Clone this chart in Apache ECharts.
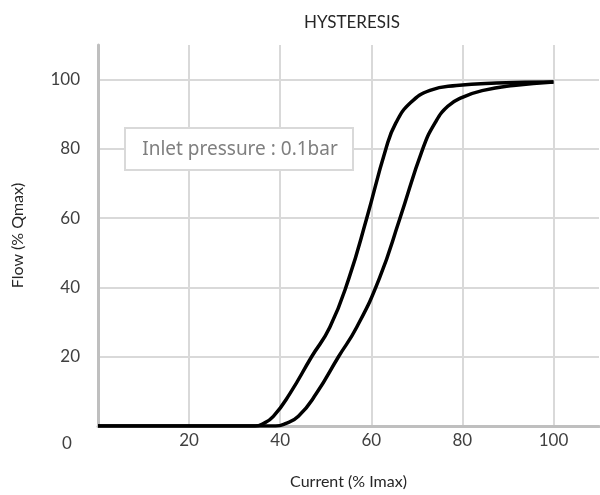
<!DOCTYPE html>
<html>
<head>
<meta charset="utf-8">
<script src="https://cdn.jsdelivr.net/npm/echarts@6/dist/echarts.min.js"></script>
<style>
html,body{margin:0;padding:0;background:#fff;}
#chart{width:600px;height:495px;}
</style>
</head>
<body>
<div id="chart"></div>
<script>
// Data
var titleText = 'HYSTERESIS';
var xAxisName = 'Current (% Imax)';
var yAxisName = 'Flow (% Qmax)';
var noteText = 'Inlet pressure : 0.1bar';
var xTicks = [0, 20, 40, 60, 80, 100];
var yTicks = [0, 20, 40, 60, 80, 100];

// upper branch (left curve)
var leftCurrent = [0, 20, 34.5, 36, 38.5, 42.2, 46.9, 50.9, 55.1, 59.0, 63.2, 65.4, 68.6, 72.9, 78.7, 87.5, 100];
var leftFlow    = [0, 0, 0, 0.5, 2.8, 9.5, 20, 28.5, 42.7, 60, 80, 87.5, 93.3, 96.9, 98.3, 99.0, 99.3];

// lower branch (right curve)
var rightCurrent = [0, 20, 39, 41, 44, 48, 52.8, 56.8, 61.8, 66.3, 71.3, 74.0, 76.8, 80.0, 84.6, 91.2, 100];
var rightFlow    = [0, 0, 0, 0.6, 2.8, 9.5, 20, 28.5, 42.7, 60, 80, 87.5, 92.3, 94.9, 96.9, 98.3, 99.3];

function zip(xs, ys) { return xs.map(function (x, i) { return [x, ys[i]]; }); }

var chart = echarts.init(document.getElementById('chart'), null, {renderer: 'canvas'});
var font = 'Lato';
var labelFmt = function (ticks) {
  return function (v) { return ticks.indexOf(v) >= 0 && v !== 0 ? String(v) : ''; };
};

chart.setOption({
  animation: false,
  backgroundColor: '#ffffff',
  title: {
    text: titleText,
    left: 299,
    top: 9,
    textStyle: {fontFamily: font, fontSize: 17, fontWeight: 'normal', color: '#262626'}
  },
  grid: {left: 98, right: 1, top: 45, bottom: 65, containLabel: false},
  xAxis: {
    type: 'value', min: 0, max: 110, interval: 20,
    name: xAxisName, nameLocation: 'middle', nameGap: 48,
    nameTextStyle: {fontFamily: font, fontSize: 16, color: '#262626'},
    axisLine: {show: true, lineStyle: {color: '#bfbfbf', width: 3}},
    axisTick: {show: false},
    axisLabel: {formatter: labelFmt(xTicks), showMaxLabel: false, margin: 6,
      fontFamily: font, fontSize: 17, color: '#404040'},
    splitLine: {show: true, showMaxLine: false, lineStyle: {color: '#d9d9d9', width: 2}}
  },
  yAxis: {
    type: 'value', min: 0, max: 110, interval: 20,
    name: yAxisName, nameLocation: 'middle', nameGap: 72, nameRotate: 90,
    nameTextStyle: {fontFamily: font, fontSize: 16, color: '#262626'},
    axisLine: {show: true, lineStyle: {color: '#bfbfbf', width: 3}},
    axisTick: {show: false},
    axisLabel: {formatter: labelFmt(yTicks), showMaxLabel: false, margin: 18,
      fontFamily: font, fontSize: 17, color: '#404040'},
    splitLine: {show: true, showMaxLine: false, lineStyle: {color: '#d9d9d9', width: 2}}
  },
  graphic: [
    {type: 'text', left: 62, top: 435, style: {text: '0', fontFamily: font, fontSize: 17, fill: '#404040'}},
    {type: 'rect', shape: {x: 125, y: 128, width: 228, height: 42},
      style: {fill: '#ffffff', stroke: '#d9d9d9', lineWidth: 2}, z: 100},
    {type: 'text', x: 240, y: 150, z: 101,
      style: {text: noteText, fontFamily: 'Noto Sans', fontSize: 19, fill: '#7f7f7f',
        textAlign: 'center', textVerticalAlign: 'middle'}}
  ],
  series: [
    {type: 'line', data: zip(leftCurrent, leftFlow), showSymbol: false, smooth: 0.5,
      lineStyle: {color: '#000000', width: 3.5}, z: 3},
    {type: 'line', data: zip(rightCurrent, rightFlow), showSymbol: false, smooth: 0.5,
      lineStyle: {color: '#000000', width: 3.5}, z: 3}
  ]
});
</script>
</body>
</html>
